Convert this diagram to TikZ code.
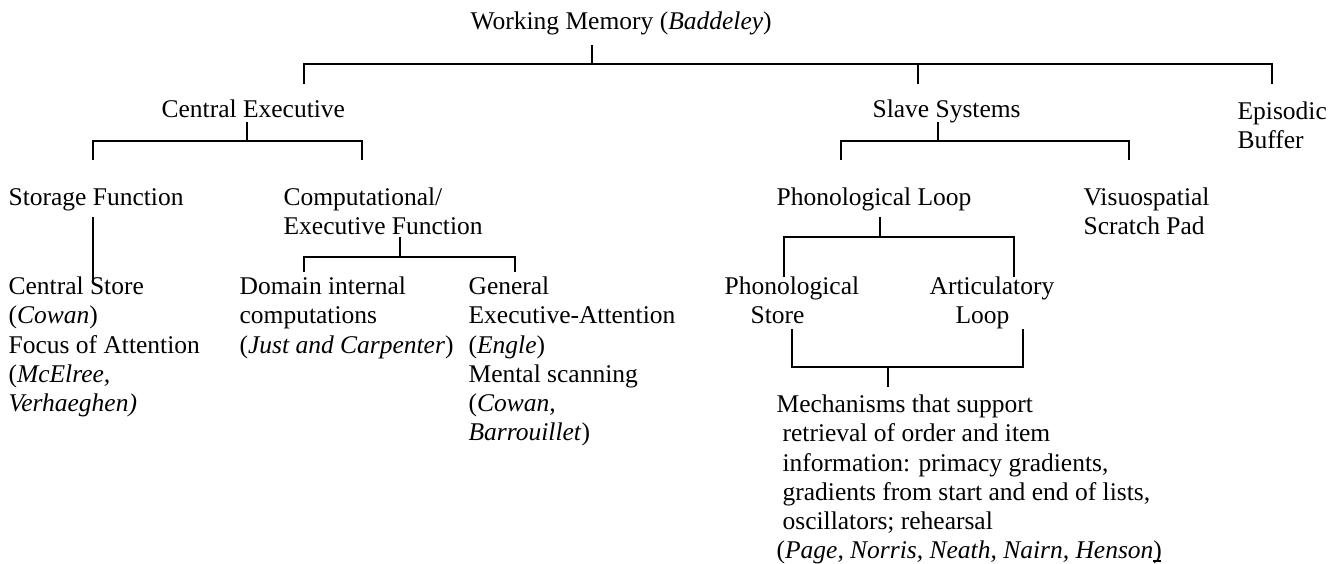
\documentclass[tikz,border=0pt]{standalone}
\usepackage{fontspec}
\setmainfont{Liberation Serif}
\begin{document}
\begin{tikzpicture}[x=1pt,y=-1pt,line width=1.2pt,
  lbl/.style={anchor=north west,inner sep=0pt,align=left,font=\fontsize{25.5pt}{29.2pt}\selectfont}]
\useasboundingbox (0,0) rectangle (1338,563);
% top levels
\node[lbl] (wm) at (470,8.6) {\strut Working Memory (\textit{Baddeley})};
\node[lbl] (ce) at (161,96.6) {\strut Central Executive};
\node[lbl] (ss) at (872,96.6) {\strut Slave Systems};
\node[lbl] (eb) at (1237,98.6) {\strut Episodic\\Buffer};
\node[lbl] (sf) at (8,184.6) {\strut Storage Function};
\node[lbl] (cf) at (283,184.6) {\strut Computational/\\Executive Function};
\node[lbl] (pl) at (776,184.6) {\strut Phonological Loop};
\node[lbl] (vs) at (1083,184.6) {\strut Visuospatial\\Scratch Pad};
% leaves
\node[lbl] (cs) at (8,273.6) {\strut Central Store\\(\textit{Cowan})\\Focus of Attention\\(\textit{McElree,}\\\textit{Verhaeghen)}};
\node[lbl] (di) at (239,273.6) {\strut Domain internal\\computations\\(\textit{Just and Carpenter})};
\node[lbl] (ge) at (468,273.6) {\strut General\\Executive-Attention\\(\textit{Engle})\\Mental scanning\\(\textit{Cowan,}\\\textit{Barrouillet})};
\node[lbl] (ps) at (724,273.6) {\strut Phonological\\\hspace*{26pt}Store};
\node[lbl] (al) at (929,273.6) {\strut Articulatory\\\hspace*{26pt}Loop};
\node[lbl] (mech) at (776,391.6) {\strut Mechanisms that support\\
  \hspace*{6pt}retrieval of order and item\\
  \hspace*{6pt}information: primacy gradients,\\
  \hspace*{6pt}gradients from start and end of lists,\\
  \hspace*{6pt}oscillators; rehearsal\\
  (\textit{Page, Norris, Neath, Nairn, Henson}\makebox[0pt][l]{\rule[-3pt]{8pt}{1.2pt}})};
% junctions
\coordinate (wm-s) at (592,45);  \coordinate (wm-j) at (592,64);
\coordinate (ce-t) at (304,84);  \coordinate (ss-t) at (918,84);  \coordinate (eb-t) at (1272,84);
\coordinate (ce-s) at (247,122); \coordinate (ce-j) at (247,141);
\coordinate (sf-t) at (93,160);  \coordinate (cf-t) at (362,160);
\coordinate (ss-s) at (938,122); \coordinate (ss-j) at (938,141);
\coordinate (pl-t) at (841,160); \coordinate (vs-t) at (1129,160);
\coordinate (sf-s) at (93,217);  \coordinate (cs-t) at (93,283);
\coordinate (cf-s) at (400,237); \coordinate (cf-j) at (400,257);
\coordinate (di-t) at (304,272); \coordinate (ge-t) at (515,272);
\coordinate (pl-s) at (880,217); \coordinate (pl-j) at (880,237);
\coordinate (ps-t) at (784,277); \coordinate (al-t) at (1014,277);
\coordinate (ps-s) at (792,329); \coordinate (al-s) at (1023,329);
\coordinate (mech-j) at (888,367); \coordinate (mech-t) at (888,387);
% connectors
\draw (wm-s) -- (wm-j);
\draw (ce-t) |- (wm-j) -| (eb-t);
\draw (ss-t) -- (ss-t |- wm-j);
\draw (ce-s) -- (ce-j);
\draw (sf-t) |- (ce-j) -| (cf-t);
\draw (ss-s) -- (ss-j);
\draw (pl-t) |- (ss-j) -| (vs-t);
\draw (sf-s) -- (cs-t);
\draw (cf-s) -- (cf-j);
\draw (di-t) |- (cf-j) -| (ge-t);
\draw (pl-s) -- (pl-j);
\draw (ps-t) |- (pl-j) -| (al-t);
\draw (ps-s) |- (mech-j) -| (al-s);
\draw (mech-j) -- (mech-t);
\end{tikzpicture}
\end{document}
